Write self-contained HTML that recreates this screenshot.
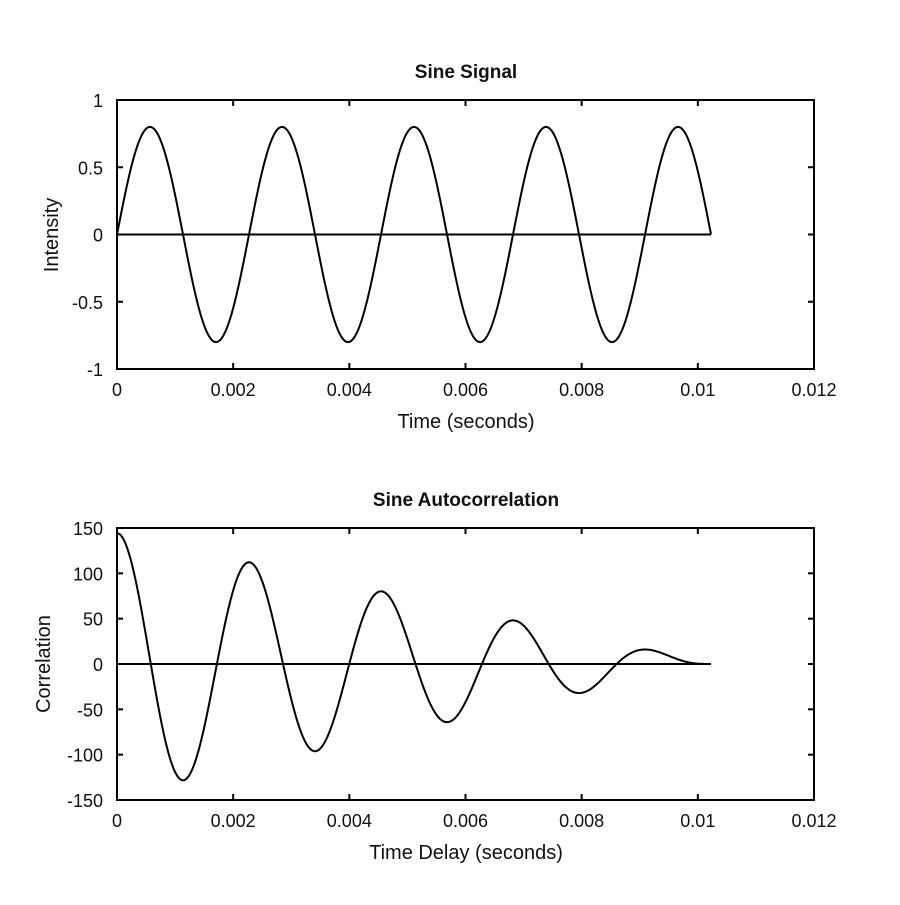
<!DOCTYPE html>
<html><head><style>body{margin:0;background:#fff}svg text{font-family:"Liberation Sans",sans-serif;fill:#111}</style></head>
<body>
<svg id="s" width="900" height="900" xmlns="http://www.w3.org/2000/svg">
<rect width="900" height="900" fill="#fff"/>
<g>
<text x="466" y="78" text-anchor="middle" font-weight="bold" font-size="19">Sine Signal</text>
<text x="466" y="506" text-anchor="middle" font-weight="bold" font-size="19">Sine Autocorrelation</text>
<text x="466" y="428" text-anchor="middle" font-size="20">Time (seconds)</text>
<text x="466" y="859" text-anchor="middle" font-size="20">Time Delay (seconds)</text>
<text transform="translate(58,235) rotate(-90)" text-anchor="middle" font-size="20">Intensity</text>
<text transform="translate(50,664) rotate(-90)" text-anchor="middle" font-size="20">Correlation</text>
</g>
<g id="g" stroke="#000" fill="none" stroke-width="2"></g>
<g id="t" font-size="18"></g>
</svg>
<script>
var g=document.getElementById('g'),t=document.getElementById('t'),NS='http://www.w3.org/2000/svg';
function el(p,n,a,txt){var e=document.createElementNS(NS,n);for(var k in a)e.setAttribute(k,a[k]);if(txt!=null)e.textContent=txt;p.appendChild(e);}
var L=117,R=814;
function X(v){return L+v/0.012*(R-L);}
function axes(T,B,ymin,ymax,ystep,ylabs){
 el(g,'rect',{x:L,y:T,width:R-L,height:B-T});
 function Y(v){return B-(v-ymin)/(ymax-ymin)*(B-T);}
 for(var i=0;i<=6;i++){var v=i*0.002,x=X(v);
  el(g,'line',{x1:x,x2:x,y1:B,y2:B-6});el(g,'line',{x1:x,x2:x,y1:T,y2:T+6});
  el(t,'text',{x:x,y:B+27,'text-anchor':'middle'},['0','0.002','0.004','0.006','0.008','0.01','0.012'][i]);}
 for(var j=0;j<ylabs.length;j++){var v=ymin+j*ystep,y=Y(v);
  el(g,'line',{x1:L,x2:L+6,y1:y,y2:y});el(g,'line',{x1:R,x2:R-6,y1:y,y2:y});
  el(t,'text',{x:L-14,y:y+7,'text-anchor':'end'},ylabs[j]);}
 return Y;}
var Y1=axes(100,369,-1,1,0.5,['-1','-0.5','0','0.5','1']);
var Y2=axes(528,800,-150,150,50,['-150','-100','-50','0','50','100','150']);
var f=440,fs=44100,N=452,x=[],d='',d2='';
for(var n=0;n<N;n++)x.push(0.8*Math.sin(2*Math.PI*f*n/fs));
for(var n=0;n<N;n++){d+=(n?'L':'M')+X(n/fs).toFixed(2)+','+Y1(x[n]).toFixed(2);}
for(var k=0;k<N;k++){var s=0;for(var n=0;n+k<N;n++)s+=x[n]*x[n+k];
 d2+=(k?'L':'M')+X(k/fs).toFixed(2)+','+Y2(s).toFixed(2);}
el(g,'path',{d:d});el(g,'path',{d:d2});
var Te=(N-1)/fs;
el(g,'line',{x1:X(0),x2:X(Te),y1:Y1(0),y2:Y1(0)});
el(g,'line',{x1:X(0),x2:X(Te),y1:Y2(0),y2:Y2(0)});
</script>
</body></html>
